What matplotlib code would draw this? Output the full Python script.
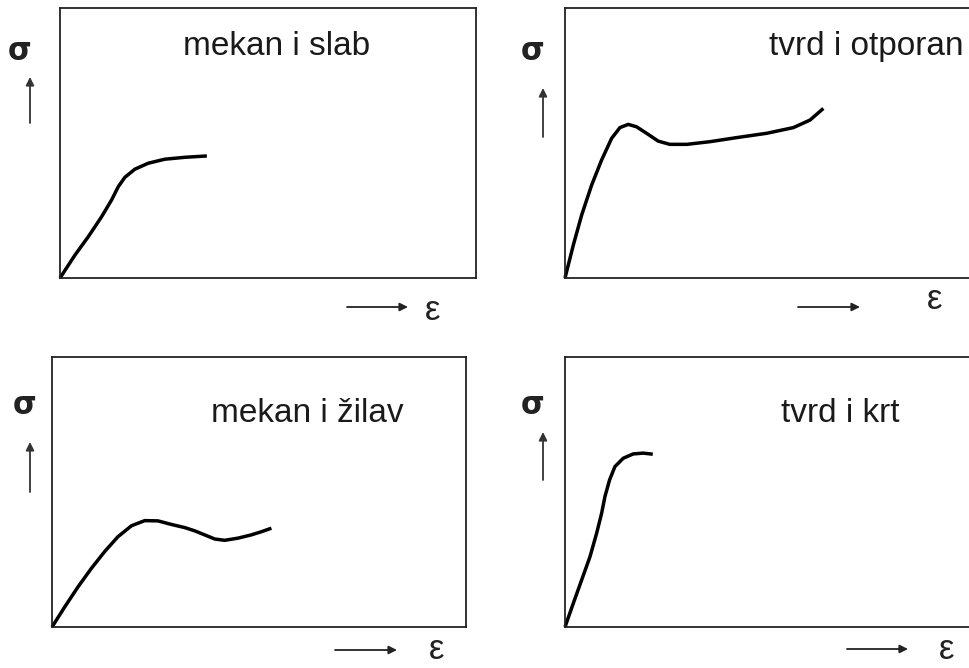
import matplotlib
matplotlib.use("Agg")
import matplotlib.pyplot as plt

W, H = 969, 668

# --- data (axes-normalised strain / stress) ---
titles = ["mekan i slab", "tvrd i otporan", "mekan i žilav", "tvrd i krt"]

eps_slab = [0.0, 0.036, 0.068, 0.100, 0.124, 0.140, 0.156, 0.180, 0.212, 0.252, 0.300, 0.353]
sig_slab = [0.0, 0.085, 0.153, 0.227, 0.289, 0.338, 0.373, 0.403, 0.425, 0.440, 0.447, 0.452]

eps_otporan = [0.0, 0.020, 0.040, 0.064, 0.088, 0.112, 0.132, 0.152, 0.172, 0.196,
               0.224, 0.252, 0.293, 0.349, 0.413, 0.485, 0.549, 0.589, 0.621]
sig_otporan = [0.0, 0.122, 0.233, 0.344, 0.437, 0.517, 0.557, 0.569, 0.560, 0.536,
               0.507, 0.495, 0.495, 0.505, 0.520, 0.536, 0.557, 0.585, 0.628]

eps_zilav = [0.0, 0.031, 0.063, 0.095, 0.127, 0.159, 0.192, 0.224, 0.256, 0.288,
             0.321, 0.345, 0.369, 0.393, 0.417, 0.449, 0.481, 0.506, 0.530]
sig_zilav = [0.0, 0.075, 0.149, 0.217, 0.279, 0.334, 0.375, 0.394, 0.393, 0.380,
             0.368, 0.356, 0.341, 0.326, 0.321, 0.329, 0.341, 0.353, 0.366]

eps_krt = [0.0, 0.020, 0.040, 0.060, 0.076, 0.088, 0.096, 0.107, 0.120, 0.140, 0.164, 0.188, 0.211]
sig_krt = [0.0, 0.088, 0.174, 0.260, 0.347, 0.421, 0.483, 0.544, 0.594, 0.625, 0.641, 0.644, 0.640]

curves = [(eps_slab, sig_slab), (eps_otporan, sig_otporan),
          (eps_zilav, sig_zilav), (eps_krt, sig_krt)]

# --- layout (pixels: left, top, width, height) ---
boxes = [(60, 8, 416, 270), (565, 8, 416, 270), (52, 357, 414, 270), (565, 357, 416, 270)]
title_pos = [(0.52, 0.826), (0.724, 0.826), (0.617, 0.759), (0.661, 0.759)]
sigma_pos = [(20, 52), (533, 52), (25, 405), (533, 405)]
up_arrows = [(30, 123, 77), (543, 137, 88), (30, 492, 442), (543, 480, 432)]
right_arrows = [(347, 408, 307), (798, 860, 307), (335, 397, 650), (847, 908, 649)]
# (x, baseline y) in pixels
eps_pos = [(433, 320), (935, 309), (437, 659), (947, 659)]

plt.rcParams['font.family'] = ['Liberation Sans', 'DejaVu Sans']
fig = plt.figure(figsize=(W / 100, H / 100), dpi=100)

for i, (l, t, w, h) in enumerate(boxes):
    ax = fig.add_axes([l / W, 1 - (t + h) / H, w / W, h / H])
    ax.set_xlim(0, 1)
    ax.set_ylim(0, 1)
    ax.set_xticks([])
    ax.set_yticks([])
    for s in ax.spines.values():
        s.set_linewidth(1.3)
        s.set_color('#222222')
    x, y = curves[i]
    ax.plot(x, y, color='black', lw=2.5, solid_capstyle='butt',
            solid_joinstyle='round', clip_on=False)
    ax.text(title_pos[i][0], title_pos[i][1], titles[i], transform=ax.transAxes,
            ha='center', va='baseline', fontsize=24, color='#1a1a1a')

for (x, y) in sigma_pos:
    fig.text(x / W, 1 - y / H, "σ", ha='center', va='center', fontsize=22,
             fontweight='bold', color='#222222', family=['DejaVu Sans'])
for (x, y) in eps_pos:
    fig.text(x / W, 1 - y / H, "ε", ha='center', va='baseline', fontsize=25,
             color='#222222', family=['Liberation Sans'])

for (x, y0, y1) in up_arrows:
    fig.add_artist(matplotlib.patches.FancyArrowPatch(
        (x / W, 1 - y0 / H), (x / W, 1 - y1 / H), transform=fig.transFigure,
        arrowstyle='-|>', mutation_scale=12, lw=1.3, color='#333333',
        shrinkA=0, shrinkB=0))
for (x0, x1, y) in right_arrows:
    fig.add_artist(matplotlib.patches.FancyArrowPatch(
        (x0 / W, 1 - y / H), (x1 / W, 1 - y / H), transform=fig.transFigure,
        arrowstyle='-|>', mutation_scale=12, lw=1.3, color='#222222',
        shrinkA=0, shrinkB=0))

fig.savefig("out.png", dpi=100)
